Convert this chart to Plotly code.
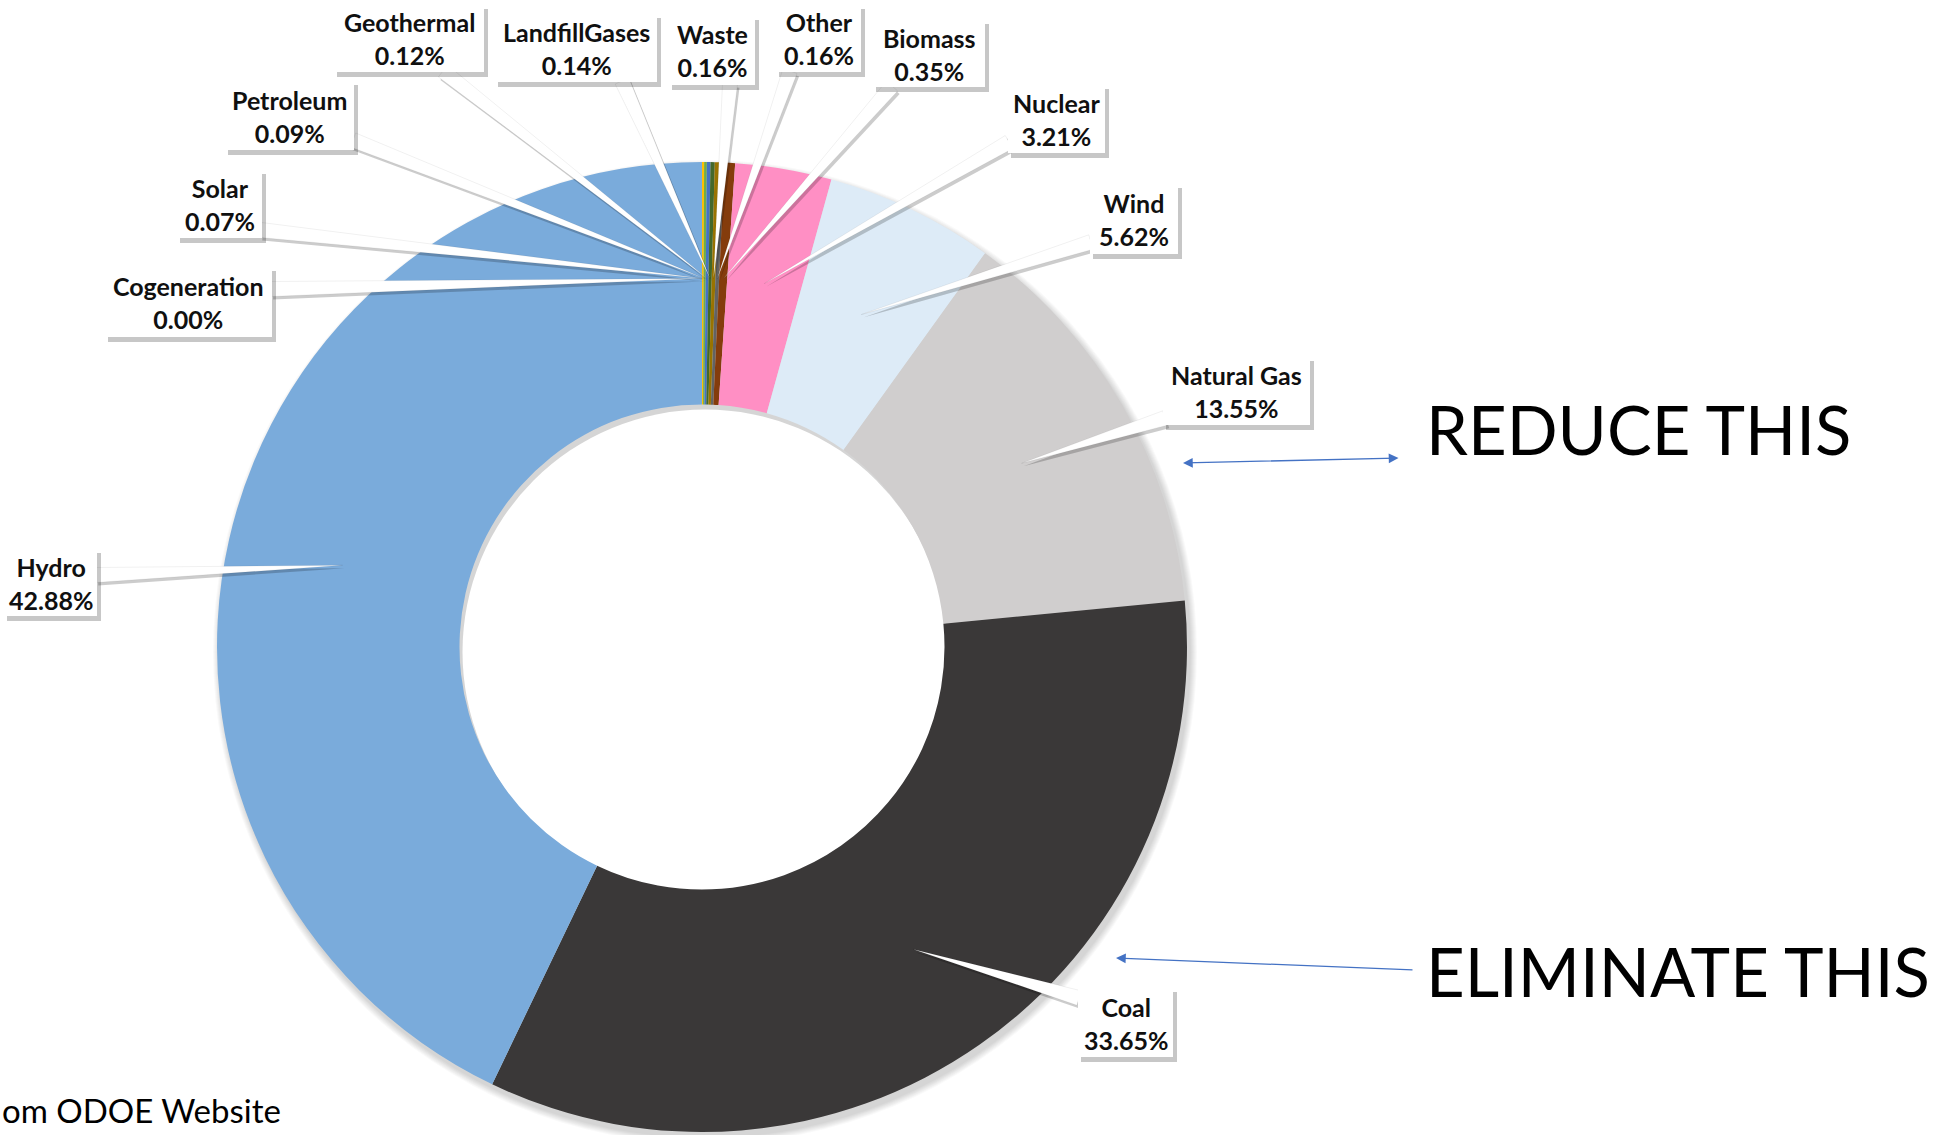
import math
import plotly.graph_objects as go

W, H = 1956, 1135

# ---------------- data ----------------
labels = ["Cogeneration", "Solar", "Petroleum", "Geothermal", "LandfillGases", "Waste",
          "Other", "Biomass", "Nuclear", "Wind", "Natural Gas", "Coal", "Hydro"]
values = [0.00, 0.07, 0.09, 0.12, 0.14, 0.16, 0.16, 0.35, 3.21, 5.62, 13.55, 33.65, 42.88]
colors = ["#A5A5A5", "#FFC000", "#70AD47", "#4472C4", "#43682B", "#997300",
          "#636363", "#843C0C", "#FF8FC4", "#DDEBF7", "#D0CECE", "#3A3838", "#7AABDB"]

# ---------------- layout (pixel positions) ----------------
CX, CY, R = 702, 647, 485
HOLE = 0.5
# label boxes: x0, x1, y0, y1
boxes = {
    "Cogeneration": (105, 272, 268, 337),
    "Solar": (177, 262, 171, 238),
    "Petroleum": (225, 354, 82, 150),
    "Geothermal": (334, 484, 6, 72),
    "LandfillGases": (495, 657, 15, 82),
    "Waste": (669, 755, 17, 85),
    "Other": (776, 861, 6, 72),
    "Biomass": (873, 985, 21, 87),
    "Nuclear": (1008, 1105, 86, 153),
    "Wind": (1090, 1178, 185, 254),
    "Natural Gas": (1163, 1310, 358, 425),
    "Coal": (1078, 1173, 989, 1057),
    "Hydro": (4, 97, 550, 616),
}
# where each leader leaves its box
anchors = {
    "Cogeneration": (271, 289),
    "Solar": (261, 230),
    "Petroleum": (353, 140),
    "Geothermal": (443, 71),
    "LandfillGases": (622, 81),
    "Waste": (730, 84),
    "Other": (790, 71),
    "Biomass": (892, 86),
    "Nuclear": (1009, 142),
    "Wind": (1091, 242),
    "Natural Gas": (1165, 418),
    "Coal": (1079, 998),
    "Hydro": (96, 575),
}


def px(x):
    return x / W


def py(y):
    return 1 - y / H


fig = go.Figure()
fig.add_trace(go.Pie(
    labels=labels, values=values, sort=False, direction="clockwise", rotation=0,
    hole=HOLE, textinfo="none", hoverinfo="label+percent",
    marker=dict(colors=colors, line=dict(width=0)),
    domain=dict(x=[px(CX - R), px(CX + R)], y=[py(CY + R), py(CY - R)]),
    showlegend=False,
))

shapes = []
# soft drop shadow of the ring (below the pie)
dx, dy = 3, 5
for k in range(7, 0, -1):
    rr = R + k
    shapes.append(dict(type="circle", xref="paper", yref="paper", layer="below",
                       x0=px(CX + dx - rr), x1=px(CX + dx + rr),
                       y0=py(CY + dy + rr), y1=py(CY + dy - rr),
                       fillcolor="rgba(0,0,0,0.022)", line=dict(width=0)))
rin = R * HOLE
shapes.append(dict(type="circle", xref="paper", yref="paper", layer="below",
                   x0=px(CX + dx - rin), x1=px(CX + dx + rin),
                   y0=py(CY + dy + rin), y1=py(CY + dy - rin),
                   fillcolor="white", line=dict(width=0)))

# leader wedges computed from slice mid-angles
total = sum(values)
cum = 0.0
leader_paths = []
for name, v in zip(labels, values):
    theta = 2 * math.pi * (cum + v / 2) / total
    cum += v
    r = 0.76 * R
    ex, ey = CX + r * math.sin(theta), CY - r * math.cos(theta)
    ax_, ay_ = anchors[name]
    L = math.hypot(ex - ax_, ey - ay_)
    nx, ny = -(ey - ay_) / L, (ex - ax_) / L
    hw = 7.5
    leader_paths.append(((ax_ + nx * hw, ay_ + ny * hw), (ax_ - nx * hw, ay_ - ny * hw), (ex, ey)))


def path_of(pts, ox=0, oy=0):
    return "M " + " L ".join(f"{px(x + ox):.5f},{py(y + oy):.5f}" for x, y in pts) + " Z"


for pts in leader_paths:
    shapes.append(dict(type="path", xref="paper", yref="paper", layer="above",
                       path=path_of(pts, 2, 3), fillcolor="rgba(0,0,0,0.2)", line=dict(width=0)))
for pts in leader_paths:
    shapes.append(dict(type="path", xref="paper", yref="paper", layer="above",
                       path=path_of(pts), fillcolor="white",
                       line=dict(width=0.6, color="rgba(0,0,0,0.10)")))

for name in labels:
    x0, x1, y0, y1 = boxes[name]
    shapes.append(dict(type="rect", xref="paper", yref="paper", layer="above",
                       x0=px(x0 + 3), x1=px(x1 + 4), y0=py(y1 + 5), y1=py(y0 + 3),
                       fillcolor="rgba(0,0,0,0.22)", line=dict(width=0)))
    shapes.append(dict(type="rect", xref="paper", yref="paper", layer="above",
                       x0=px(x0), x1=px(x1), y0=py(y1), y1=py(y0),
                       fillcolor="white", line=dict(width=0)))

annotations = []
for name, v in zip(labels, values):
    x0, x1, y0, y1 = boxes[name]
    annotations.append(dict(
        x=px((x0 + x1) / 2), y=py((y0 + y1) / 2), xref="paper", yref="paper",
        text=f"<b>{name}</b><br><b>{v:.2f}%</b>", showarrow=False,
        xanchor="center", yanchor="middle", align="center",
        font=dict(family="Lato, 'Open Sans', sans-serif", size=25, color="#101010", weight="bold"),
    ))

big_font = dict(family="Lato, 'Open Sans', sans-serif", size=67, color="#000000")
annotations.append(dict(x=px(1424), y=py(429), xref="paper", yref="paper", text="REDUCE THIS",
                        showarrow=False, xanchor="left", yanchor="middle", font=big_font))
annotations.append(dict(x=px(1424), y=py(971), xref="paper", yref="paper", text="ELIMINATE THIS",
                        showarrow=False, xanchor="left", yanchor="middle", font=big_font))
annotations.append(dict(x=px(0), y=py(1110), xref="paper", yref="paper", text="om ODOE Website",
                        showarrow=False, xanchor="left", yanchor="middle",
                        font=dict(family="Lato, 'Open Sans', sans-serif", size=33, color="#000000")))

# arrows
ah, at = (1183, 463), (1400, 458)
annotations.append(dict(x=px(ah[0]), y=py(ah[1]), xref="paper", yref="paper", text="",
                        showarrow=True, ax=at[0] - ah[0], ay=at[1] - ah[1],
                        arrowside="end+start", arrowhead=2, startarrowhead=2,
                        arrowsize=1.5, startarrowsize=1.5, arrowwidth=1.3,
                        arrowcolor="#4472C4", standoff=0, startstandoff=0))
eh, et = (1116, 958), (1414, 970)
annotations.append(dict(x=px(eh[0]), y=py(eh[1]), xref="paper", yref="paper", text="",
                        showarrow=True, ax=et[0] - eh[0], ay=et[1] - eh[1],
                        arrowhead=2, arrowsize=1.5, arrowwidth=1.3,
                        arrowcolor="#4472C4", standoff=0))

fig.update_layout(
    width=W, height=H, margin=dict(l=0, r=0, t=0, b=0),
    paper_bgcolor="white", plot_bgcolor="white",
    shapes=shapes, annotations=annotations, showlegend=False,
)

fig.write_html("out.html", config={"displayModeBar": False},
               post_script="document.body.style.margin='0px';")
